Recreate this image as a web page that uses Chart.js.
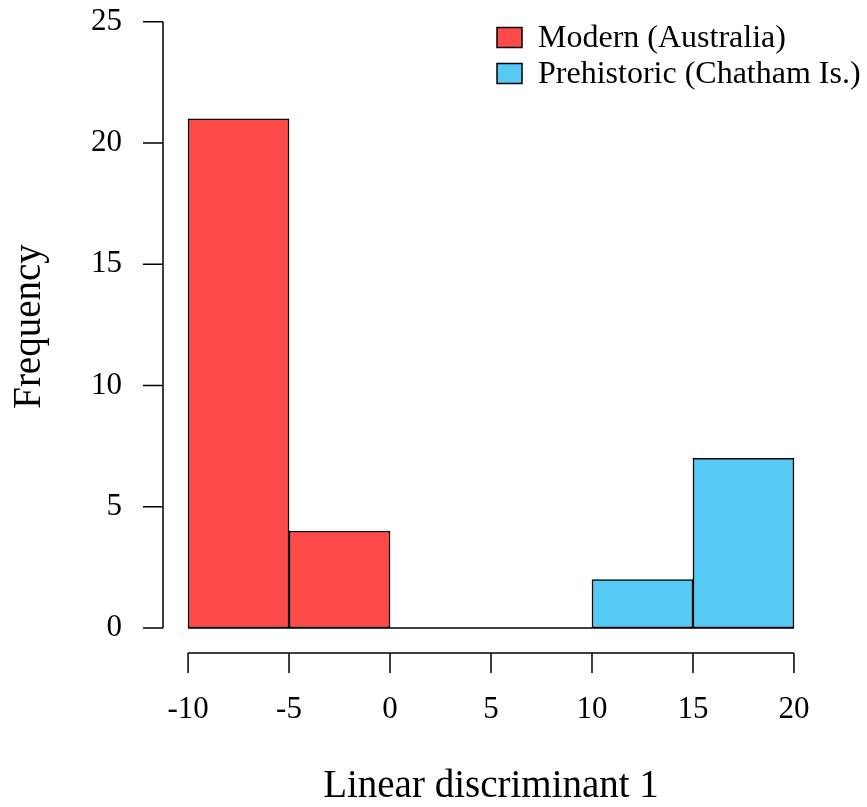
<!DOCTYPE html>
<html>
<head>
<meta charset="utf-8">
<script src="https://cdn.jsdelivr.net/npm/chart.js@4.4.1/dist/chart.umd.min.js"></script>
<style>
  html, body { margin: 0; padding: 0; background: #fff; }
  canvas { display: block; }
</style>
</head>
<body>
<canvas id="myChart" width="867" height="807"></canvas>
<script>
// histogram bins (edges) and counts
const binEdges = [-10, -5, 0, 5, 10, 15, 20];
const modern = [21, 4, 0, 0, 0, 0];
const prehistoric = [0, 0, 0, 0, 2, 7];
const xTicks = [-10, -5, 0, 5, 10, 15, 20];
const yTicks = [0, 5, 10, 15, 20, 25];
const seriesNames = ["Modern (Australia)", "Prehistoric (Chatham Is.)"];

const FONT = "'Liberation Serif', 'Times New Roman', serif";

var centers = [];
for (var i = 0; i < binEdges.length - 1; i++) {
    centers.push((binEdges[i] + binEdges[i + 1]) / 2);
}

const rAxes = {
    id: "rAxes",
    beforeDatasetsDraw(chart) {
        const { ctx, scales: { x, y } } = chart;
        // zero-height bins show up as a line along the base
        ctx.save();
        ctx.strokeStyle = "#000";
        ctx.lineWidth = 1.5;
        ctx.beginPath();
        ctx.moveTo(x.getPixelForValue(binEdges[0]), y.getPixelForValue(0));
        ctx.lineTo(x.getPixelForValue(binEdges[binEdges.length - 1]), y.getPixelForValue(0));
        ctx.stroke();
        ctx.restore();
    },
    afterDraw(chart) {
        const { ctx, chartArea, scales: { x, y } } = chart;
        ctx.save();
        ctx.strokeStyle = "#000";
        ctx.fillStyle = "#000";
        ctx.lineWidth = 1.5;

        // y axis
        const ax = chartArea.left;
        ctx.beginPath();
        ctx.moveTo(ax, y.getPixelForValue(yTicks[0]));
        ctx.lineTo(ax, y.getPixelForValue(yTicks[yTicks.length - 1]));
        yTicks.forEach((v) => {
            const py = y.getPixelForValue(v);
            ctx.moveTo(ax - 20, py);
            ctx.lineTo(ax, py);
        });
        ctx.stroke();
        ctx.font = "31px " + FONT;
        ctx.textAlign = "right";
        ctx.textBaseline = "middle";
        yTicks.forEach((v) => ctx.fillText(String(v), ax - 41, y.getPixelForValue(v)));

        // x axis
        const ay = chartArea.bottom;
        ctx.beginPath();
        ctx.moveTo(x.getPixelForValue(xTicks[0]), ay);
        ctx.lineTo(x.getPixelForValue(xTicks[xTicks.length - 1]), ay);
        xTicks.forEach((v) => {
            const px = x.getPixelForValue(v);
            ctx.moveTo(px, ay);
            ctx.lineTo(px, ay + 20);
        });
        ctx.stroke();
        ctx.textAlign = "center";
        xTicks.forEach((v) => ctx.fillText(String(v), x.getPixelForValue(v), ay + 57));

        // axis titles
        ctx.font = "39px " + FONT;
        ctx.textBaseline = "alphabetic";
        ctx.fillText("Linear discriminant 1",
            (x.getPixelForValue(xTicks[0]) + x.getPixelForValue(xTicks[xTicks.length - 1])) / 2, 797);
        ctx.save();
        ctx.translate(40, (chartArea.top + chartArea.bottom) / 2);
        ctx.rotate(-Math.PI / 2);
        ctx.fillText("Frequency", 0, 0);
        ctx.restore();

        // legend
        ctx.font = "32px " + FONT;
        ctx.textAlign = "left";
        ctx.textBaseline = "middle";
        const lx = chartArea.right - 321;
        chart.data.datasets.forEach((ds, i) => {
            const cy = 37.5 + i * 36;
            ctx.fillStyle = ds.backgroundColor;
            ctx.fillRect(lx, cy - 10, 25, 20);
            ctx.strokeRect(lx, cy - 10, 25, 20);
            ctx.fillStyle = "#000";
            ctx.fillText(ds.label, lx + 41, cy + 1);
        });
        ctx.restore();
    }
};

const ctx = document.getElementById("myChart");

const myChart = new Chart(ctx, {
    type: "bar",
    data: {
        datasets: [
            {
                label: seriesNames[0],
                data: centers.map((c, i) => ({ x: c, y: modern[i] })),
                backgroundColor: "#FF4A4A",
                borderColor: "#000",
                borderWidth: 1.5,
                borderSkipped: false,
            },
            {
                label: seriesNames[1],
                data: centers.map((c, i) => ({ x: c, y: prehistoric[i] })),
                backgroundColor: "#57C9F5",
                borderColor: "#000",
                borderWidth: 1.5,
                borderSkipped: false,
            },
        ],
    },
    options: {
        responsive: false,
        animation: false,
        devicePixelRatio: 1,
        grouped: false,
        barPercentage: 1,
        categoryPercentage: 1,
        layout: { padding: { left: 163, right: 49, top: 0, bottom: 154 } },
        plugins: { legend: { display: false }, tooltip: { enabled: false } },
        scales: {
            x: {
                type: "linear",
                display: false,
                offset: false,
                min: -11.24,
                max: 21.19,
                afterBuildTicks: (s) => { s.ticks = xTicks.map((v) => ({ value: v })); },
            },
            y: {
                type: "linear",
                display: false,
                min: -1.03,
                max: 25.9,
            },
        },
    },
    plugins: [rAxes],
});
</script>
</body>
</html>
